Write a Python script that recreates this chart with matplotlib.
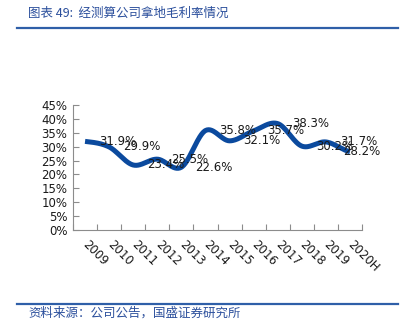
import numpy as np
import matplotlib
matplotlib.use("Agg")
import matplotlib.pyplot as plt
from matplotlib.lines import Line2D

years = ["2009", "2010", "2011", "2012", "2013", "2014", "2015", "2016",
         "2017", "2018", "2019", "2020H"]
margin = [31.9, 29.9, 23.4, 25.5, 22.6, 35.8, 32.1, 35.7, 38.3, 30.2, 31.7, 28.2]
y_ticks = [0, 5, 10, 15, 20, 25, 30, 35, 40, 45]

title = "图表 49:  经测算公司拿地毛利率情况"
source = "资料来源：公司公告，国盛证券研究所"

LINE_BLUE = "#0b4a9e"
TEXT_BLUE = "#2b4f9c"
RULE_BLUE = "#2f5fa8"

W, H = 413, 332
fig = plt.figure(figsize=(W / 100, H / 100), dpi=100)
fig.patch.set_facecolor("white")

ax = fig.add_axes([73 / W, 1 - 230 / H, (362 - 73) / W, (230 - 105) / H])


def smooth(values, steps=30):
    """Catmull-Rom style smoothing through each data point."""
    p = np.asarray(values, dtype=float)
    p = np.concatenate([[p[0]], p, [p[-1]]])
    xs, ys = [], []
    for i in range(1, len(p) - 2):
        p0, p1, p2, p3 = p[i - 1], p[i], p[i + 1], p[i + 2]
        c1 = p1 + (p2 - p0) / 6
        c2 = p2 - (p3 - p1) / 6
        t = np.linspace(0, 1, steps, endpoint=(i == len(p) - 3))
        b = ((1 - t) ** 3 * p1 + 3 * (1 - t) ** 2 * t * c1
             + 3 * (1 - t) * t ** 2 * c2 + t ** 3 * p2)
        xs.append(i - 1 + t)
        ys.append(b)
    return np.concatenate(xs), np.concatenate(ys)


sx, sy = smooth(margin)
ax.plot(sx, sy, color=LINE_BLUE, lw=3.6, solid_capstyle="butt", zorder=3)

xpos = np.arange(len(years))
for i, v in enumerate(margin):
    dx = -7 if i == len(margin) - 1 else 14
    ax.annotate(f"{v:.1f}%", (xpos[i], v), xytext=(dx, 0),
                textcoords="offset pixels", ha="left", va="center",
                fontsize=8.5, color="#1a1a1a", zorder=4)

ax.set_xlim(-0.5, len(years) - 0.5)
ax.set_ylim(0, 45)
ax.set_yticks(y_ticks)
ax.set_yticklabels([f"{t}%" for t in y_ticks], fontsize=8.5, color="#1a1a1a")
ax.set_xticks(xpos)
ax.set_xticklabels(years, fontsize=8.5, color="#1a1a1a", rotation=-45,
                   ha="left", va="center", rotation_mode="anchor")
ax.set_xticks(np.arange(-0.5, len(years), 1.0), minor=True)
ax.tick_params(axis="x", which="major", length=0, pad=9)
ax.tick_params(axis="x", which="minor", direction="in", length=4,
               color="#8c8c8c", width=0.8)
ax.tick_params(axis="y", direction="in", length=4, color="#8c8c8c",
               width=0.8, pad=4)

for side in ("top", "right"):
    ax.spines[side].set_visible(False)
for side in ("left", "bottom"):
    ax.spines[side].set_color("#8c8c8c")
    ax.spines[side].set_linewidth(0.8)

cjk = ["Noto Sans CJK SC", "DejaVu Sans"]
fig.text(28 / W, 1 - 13 / H, title, fontsize=9, color=TEXT_BLUE,
         family=cjk, style="italic", ha="left", va="center")
fig.text(28 / W, 1 - 313 / H, source, fontsize=9, color=TEXT_BLUE,
         family=cjk, style="italic", ha="left", va="center")

fig.add_artist(Line2D([17 / W, 398 / W], [1 - 27.5 / H, 1 - 27.5 / H],
                      color=RULE_BLUE, lw=1.6, transform=fig.transFigure))
fig.add_artist(Line2D([17 / W, 398 / W], [1 - 303.5 / H, 1 - 303.5 / H],
                      color=RULE_BLUE, lw=1.6, transform=fig.transFigure))

fig.savefig("out.png", dpi=100, facecolor="white")
